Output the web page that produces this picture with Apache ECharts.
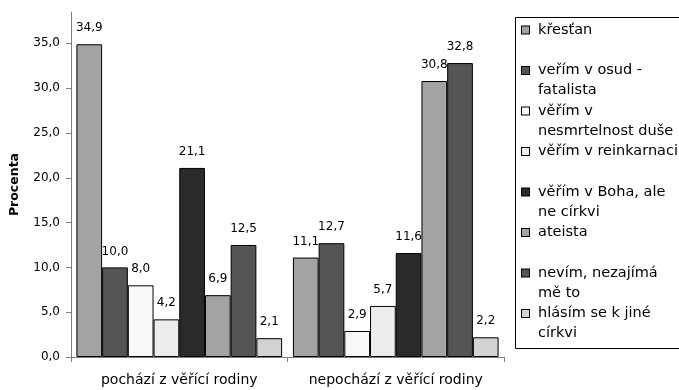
<!DOCTYPE html>
<html>
<head>
<meta charset="utf-8">
<script src="https://cdn.jsdelivr.net/npm/echarts@6/dist/echarts.min.js"></script>
<style>
html,body{margin:0;padding:0;background:#fff;}
#chart{width:679px;height:390px;}
</style>
</head>
<body>
<div id="chart"></div>
<script>
const categories = ['pochází z věřící rodiny', 'nepochází z věřící rodiny'];
const seriesNames = [
  'křesťan',
  'veřím v osud - fatalista',
  'věřím v nesmrtelnost duše',
  'věřím v reinkarnaci',
  'věřím v Boha, ale ne církvi',
  'ateista',
  'nevím, nezajímá mě to',
  'hlásím se k jiné církvi'
];
const legendLines = [
  ['křesťan', ''],
  ['veřím v osud -', 'fatalista'],
  ['věřím v', 'nesmrtelnost duše'],
  ['věřím v reinkarnaci', ''],
  ['věřím v Boha, ale', 'ne církvi'],
  ['ateista', ''],
  ['nevím, nezajímá', 'mě to'],
  ['hlásím se k jiné', 'církvi']
];
const valuesFromFaithful = [34.9, 10.0, 8.0, 4.2, 21.1, 6.9, 12.5, 2.1];
const valuesNotFromFaithful = [11.1, 12.7, 2.9, 5.7, 11.6, 30.8, 32.8, 2.2];
const yTicks = [0, 5, 10, 15, 20, 25, 30, 35];
const colors = ['#a3a3a3', '#555555', '#f8f8f8', '#ececec', '#2a2a2a', '#a3a3a3', '#555555', '#d2d2d2'];

const FONT = 'DejaVu Sans';
const fmt = v => v.toFixed(1).replace('.', ',');

const rich = {
  g: { width: 9, lineHeight: 20 },
  sp: { width: 16, lineHeight: 20 },
  t: { fontFamily: FONT, fontSize: 14.5, color: '#000', lineHeight: 20 }
};
colors.forEach((c, i) => {
  rich['b' + i] = { width: 7, height: 7, backgroundColor: c, borderColor: '#000', borderWidth: 1, lineHeight: 20 };
});

const series = seriesNames.map((name, i) => ({
  name: name,
  type: 'bar',
  data: [valuesFromFaithful[i], valuesNotFromFaithful[i]],
  barGap: '0%',
  barCategoryGap: '5%',
  itemStyle: { color: colors[i], borderColor: '#000', borderWidth: 1 },
  label: {
    show: true, position: 'top', distance: 10,
    fontFamily: FONT, fontSize: 12, color: '#000',
    formatter: p => fmt(p.value)
  },
  emphasis: { disabled: true }
}));

const chart = echarts.init(document.getElementById('chart'), null, { renderer: 'canvas' });
chart.setOption({
  animation: false,
  backgroundColor: '#fff',
  grid: { left: 70, right: 175, top: 12, bottom: 33 },
  graphic: [{
    type: 'rect', z: -1,
    shape: { x: 515.5, y: 17.5, width: 200, height: 331 },
    style: { fill: 'none', stroke: '#000', lineWidth: 1 }
  }],
  legend: {
    orient: 'vertical',
    left: 515, top: 17,
    padding: [3, 0, 5, 2],
    icon: 'none', itemWidth: 0, itemHeight: 0,
    itemGap: 0.5,
    selectedMode: false,
    data: seriesNames,
    textStyle: { fontFamily: FONT, fontSize: 14.5, color: '#000', lineHeight: 20, rich: rich },
    formatter: name => {
      const i = seriesNames.indexOf(name);
      const l = legendLines[i];
      let s = '{b' + i + '|}{g|}{t|' + l[0] + '}\n{sp|}';
      if (l[1]) s += '{t|' + l[1] + '}';
      return s;
    }
  },
  xAxis: {
    type: 'category',
    data: categories,
    axisLine: { lineStyle: { color: '#808080', width: 1 } },
    axisTick: { show: true, length: 5, lineStyle: { color: '#808080' } },
    axisLabel: { interval: 0, fontFamily: FONT, fontSize: 14, color: '#000', margin: 16 }
  },
  yAxis: {
    type: 'value',
    min: 0, max: 38.5,
    name: 'Procenta',
    nameLocation: 'middle',
    nameGap: 50,
    nameTextStyle: { fontFamily: FONT, fontSize: 12.5, fontWeight: 'bold', color: '#000' },
    splitLine: { show: false },
    axisLine: { show: true, lineStyle: { color: '#808080', width: 1 } },
    axisTick: { show: true, length: 5, customValues: yTicks, lineStyle: { color: '#808080' } },
    axisLabel: {
      customValues: yTicks,
      fontFamily: FONT, fontSize: 12, color: '#000', margin: 11,
      formatter: v => fmt(v)
    }
  },
  series: series
});
</script>
</body>
</html>
